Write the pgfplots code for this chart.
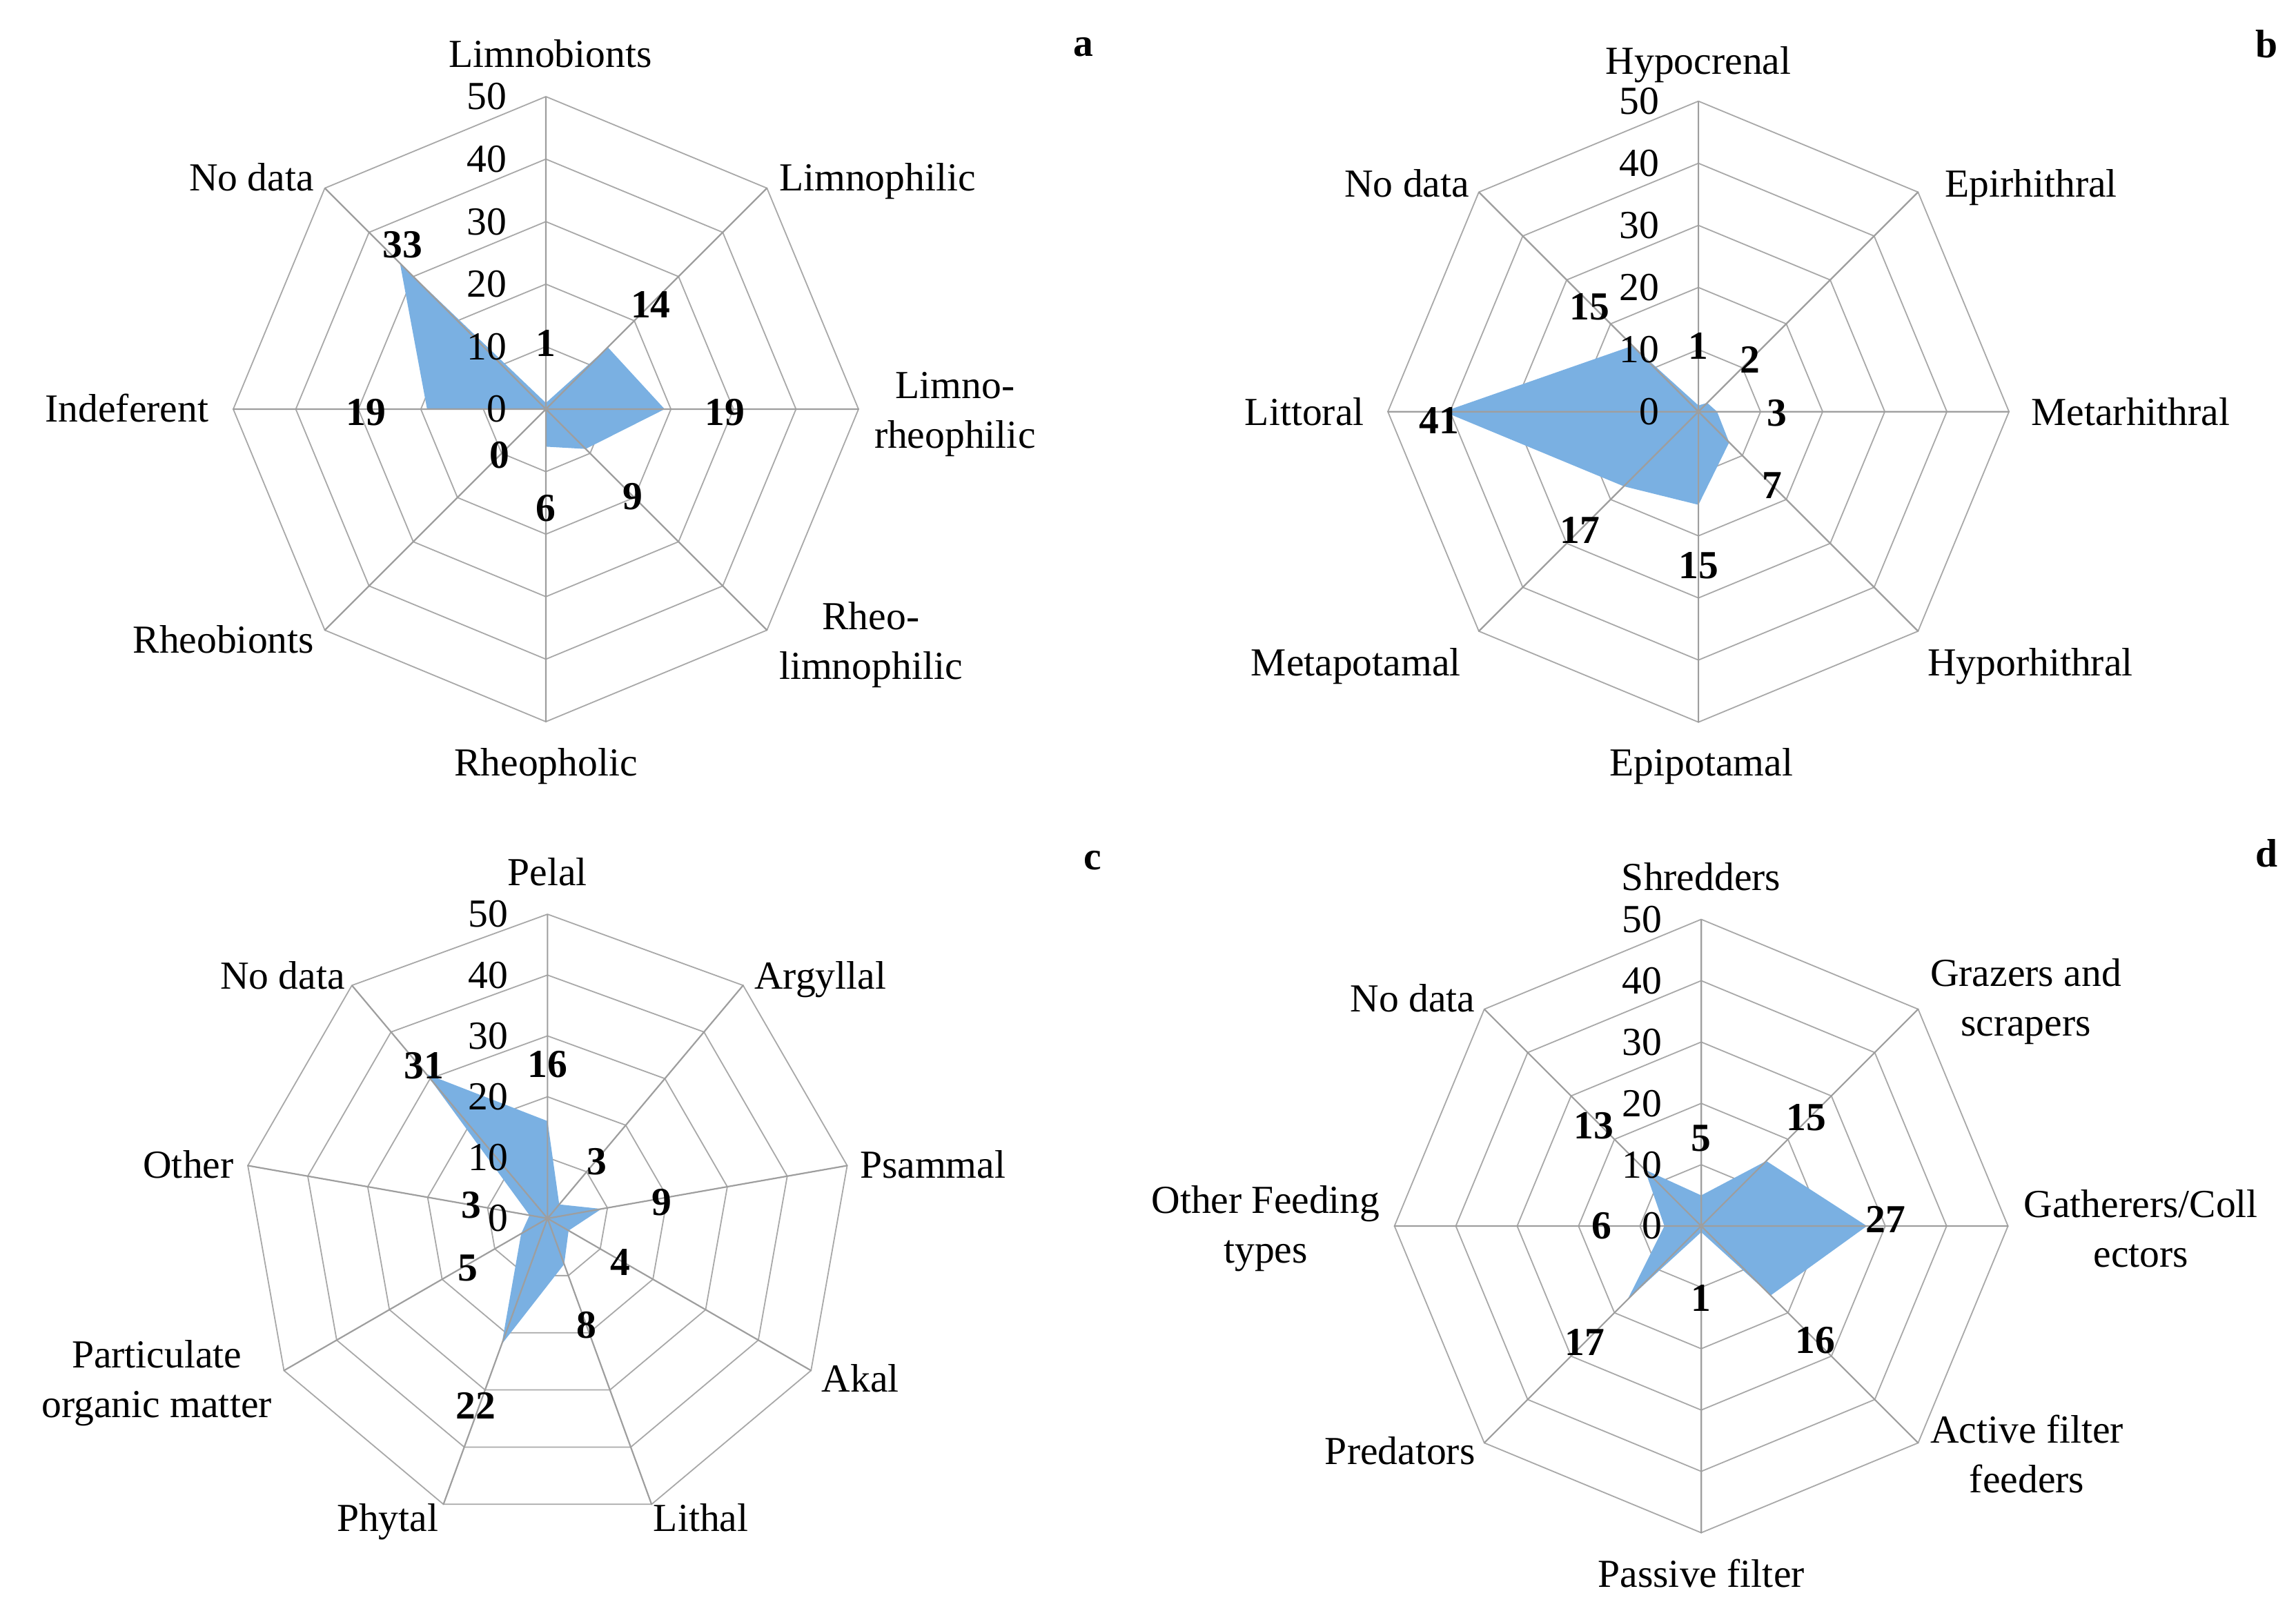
\documentclass[border=0pt]{standalone}
\usepackage{fontspec}
\setmainfont{Liberation Serif}
\usepackage{pgfplots}
\pgfplotsset{compat=1.18}
\definecolor{radarblue}{RGB}{122,176,226}
\definecolor{ringgray}{RGB}{168,168,168}
\definecolor{spokegray}{RGB}{158,158,158}
\tikzset{
  lab/.style={font=\fontsize{14.4}{18}\selectfont, inner sep=0pt, align=center, yshift=-2pt},
  slab/.style={font=\fontsize{14.4}{18}\selectfont, inner sep=0pt, text height=13.2pt, text depth=3.1pt},
  vlab/.style={font=\fontsize{14.4}{18}\selectfont\bfseries, inner sep=0pt},
  tlab/.style={font=\fontsize{14.4}{18}\selectfont, inner sep=0pt, anchor=east},
  plab/.style={font=\fontsize{14.4}{18}\selectfont\bfseries, inner sep=0pt},
  ring/.style={color=ringgray, line width=0.45pt},
  spoke/.style={color=spokegray, line width=0.55pt, line join=round},
}
\pgfplotsset{radar/.style={hide axis, xmin=-50, xmax=50, ymin=-50, ymax=50,
  anchor=origin, clip=false}}
\newcommand{\radarticks}{%
  \node[tlab] at ([xshift=-14pt]axis cs:0,0) {0};
  \node[tlab] at ([xshift=-14pt]axis cs:0,10) {10};
  \node[tlab] at ([xshift=-14pt]axis cs:0,20) {20};
  \node[tlab] at ([xshift=-14pt]axis cs:0,30) {30};
  \node[tlab] at ([xshift=-14pt]axis cs:0,40) {40};
  \node[tlab] at ([xshift=-14pt]axis cs:0,50) {50};
}
\newcommand{\octrings}{%
  \addplot[ring, data cs=polar] coordinates {(90,10)(45,10)(0,10)(-45,10)(-90,10)(-135,10)(180,10)(135,10)(90,10)};
  \addplot[ring, data cs=polar] coordinates {(90,20)(45,20)(0,20)(-45,20)(-90,20)(-135,20)(180,20)(135,20)(90,20)};
  \addplot[ring, data cs=polar] coordinates {(90,30)(45,30)(0,30)(-45,30)(-90,30)(-135,30)(180,30)(135,30)(90,30)};
  \addplot[ring, data cs=polar] coordinates {(90,40)(45,40)(0,40)(-45,40)(-90,40)(-135,40)(180,40)(135,40)(90,40)};
  \addplot[ring, data cs=polar] coordinates {(90,50)(45,50)(0,50)(-45,50)(-90,50)(-135,50)(180,50)(135,50)(90,50)};
}
\newcommand{\octspokes}{%
  \addplot[spoke, data cs=polar] coordinates {(90,50)(0,0)(45,50)(0,0)(0,50)(0,0)(-45,50)(0,0)(-90,50)(0,0)(-135,50)(0,0)(180,50)(0,0)(135,50)};
}
\newcommand{\nonrings}{%
  \addplot[ring, data cs=polar] coordinates {(90,10)(50,10)(10,10)(-30,10)(-70,10)(-110,10)(-150,10)(170,10)(130,10)(90,10)};
  \addplot[ring, data cs=polar] coordinates {(90,20)(50,20)(10,20)(-30,20)(-70,20)(-110,20)(-150,20)(170,20)(130,20)(90,20)};
  \addplot[ring, data cs=polar] coordinates {(90,30)(50,30)(10,30)(-30,30)(-70,30)(-110,30)(-150,30)(170,30)(130,30)(90,30)};
  \addplot[ring, data cs=polar] coordinates {(90,40)(50,40)(10,40)(-30,40)(-70,40)(-110,40)(-150,40)(170,40)(130,40)(90,40)};
  \addplot[ring, data cs=polar] coordinates {(90,50)(50,50)(10,50)(-30,50)(-70,50)(-110,50)(-150,50)(170,50)(130,50)(90,50)};
}
\newcommand{\nonspokes}{%
  \addplot[spoke, data cs=polar] coordinates {(90,50)(0,0)(50,50)(0,0)(10,50)(0,0)(-30,50)(0,0)(-70,50)(0,0)(-110,50)(0,0)(-150,50)(0,0)(170,50)(0,0)(130,50)};
}
\begin{document}
\begin{tikzpicture}
\path[use as bounding box] (0,0) rectangle (831.75pt,583.5pt);

% ---------------- panel a ----------------
\begin{axis}[radar, x=2.265pt, y=2.265pt, at={(197.75pt,435.24pt)}]
\octrings
\addplot[fill=radarblue, draw=none, data cs=polar] coordinates {(90,1)(45,14)(0,19)(-45,9)(-90,6)(-135,0)(180,19)(135,33)(90,1)};
\octspokes
\radarticks
\node[vlab] at ([shift={(90:{10.5*2.265pt})}]axis cs:0,0) {1};
\node[vlab] at ([shift={(45:{23.7*2.265pt})}]axis cs:0,0) {14};
\node[vlab] at ([shift={(-1:{28.6*2.265pt})}]axis cs:0,0) {19};
\node[vlab] at ([shift={(-45:{19.7*2.265pt})}]axis cs:0,0) {9};
\node[vlab] at ([shift={(-90:{15.9*2.265pt})}]axis cs:0,0) {6};
\node[vlab] at ([shift={(-135:{10.4*2.265pt})}]axis cs:0,0) {0};
\node[vlab] at ([shift={(181:{28.8*2.265pt})}]axis cs:0,0) {19};
\node[vlab] at ([shift={(131:{34.9*2.265pt})}]axis cs:0,0) {33};
\node[slab, anchor=center] at ([shift={(1.6pt,128.9pt)}]axis cs:0,0) {Limnobionts};
\node[slab, anchor=west] at ([shift={(84.3pt,84.3pt)}]axis cs:0,0) {Limnophilic};
\node[lab, anchor=west] at ([shift={(118.8pt,0pt)}]axis cs:0,0) {Limno-\\rheophilic};
\node[lab, anchor=west] at ([shift={(84.3pt,-83.3pt)}]axis cs:0,0) {Rheo-\\limnophilic};
\node[slab, anchor=center] at ([shift={(0pt,-127.8pt)}]axis cs:0,0) {Rheopholic};
\node[slab, anchor=east] at ([shift={(-83.8pt,-83.3pt)}]axis cs:0,0) {Rheobionts};
\node[slab, anchor=east] at ([shift={(-122pt,0.5pt)}]axis cs:0,0) {Indeferent};
\node[slab, anchor=east] at ([shift={(-83.8pt,84.3pt)}]axis cs:0,0) {No data};
\end{axis}

% ---------------- panel b ----------------
\begin{axis}[radar, x=2.25pt, y=2.25pt, at={(615.27pt,434.33pt)}]
\octrings
\addplot[fill=radarblue, draw=none, data cs=polar] coordinates {(90,1)(45,2)(0,3)(-45,7)(-90,15)(-135,17)(180,41)(135,15)(90,1)};
\octspokes
\radarticks
\node[vlab] at ([shift={(90:{10.6*2.25pt})}]axis cs:0,0) {1};
\node[vlab] at ([shift={(45:{11.8*2.25pt})}]axis cs:0,0) {2};
\node[vlab] at ([shift={(-1:{12.7*2.25pt})}]axis cs:0,0) {3};
\node[vlab] at ([shift={(-45:{16.8*2.25pt})}]axis cs:0,0) {7};
\node[vlab] at ([shift={(-90:{24.8*2.25pt})}]axis cs:0,0) {15};
\node[vlab] at ([shift={(-135:{27*2.25pt})}]axis cs:0,0) {17};
\node[vlab] at ([shift={(182:{41.8*2.25pt})}]axis cs:0,0) {41};
\node[vlab] at ([shift={(136:{24.3*2.25pt})}]axis cs:0,0) {15};
\node[slab, anchor=center] at ([shift={(0pt,127.3pt)}]axis cs:0,0) {Hypocrenal};
\node[slab, anchor=west] at ([shift={(89.1pt,82.8pt)}]axis cs:0,0) {Epirhithral};
\node[slab, anchor=west] at ([shift={(120.4pt,0pt)}]axis cs:0,0) {Metarhithral};
\node[slab, anchor=west] at ([shift={(82.8pt,-90.7pt)}]axis cs:0,0) {Hyporhithral};
\node[slab, anchor=center] at ([shift={(1.1pt,-126.8pt)}]axis cs:0,0) {Epipotamal};
\node[slab, anchor=east] at ([shift={(-85.9pt,-90.7pt)}]axis cs:0,0) {Metapotamal};
\node[slab, anchor=east] at ([shift={(-120.9pt,0pt)}]axis cs:0,0) {Littoral};
\node[slab, anchor=east] at ([shift={(-82.8pt,82.8pt)}]axis cs:0,0) {No data};
\end{axis}

% ---------------- panel c ----------------
\begin{axis}[radar, x=2.2046pt, y=2.2046pt, at={(198.34pt,142.0pt)}]
\nonrings
\addplot[fill=radarblue, draw=none, data cs=polar] coordinates {(90,16)(50,3)(10,9)(-30,4)(-70,8)(-110,22)(-150,5)(170,3)(130,31)(90,16)};
\nonspokes
\radarticks
\node[vlab] at ([shift={(90:{25.3*2.2046pt})}]axis cs:0,0) {16};
\node[vlab] at ([shift={(49:{12.4*2.2046pt})}]axis cs:0,0) {3};
\node[vlab] at ([shift={(8:{19*2.2046pt})}]axis cs:0,0) {9};
\node[vlab] at ([shift={(-31:{14*2.2046pt})}]axis cs:0,0) {4};
\node[vlab] at ([shift={(-70:{18.6*2.2046pt})}]axis cs:0,0) {8};
\node[vlab] at ([shift={(-111:{33*2.2046pt})}]axis cs:0,0) {22};
\node[vlab] at ([shift={(-148:{15.4*2.2046pt})}]axis cs:0,0) {5};
\node[vlab] at ([shift={(170:{12.7*2.2046pt})}]axis cs:0,0) {3};
\node[vlab] at ([shift={(129:{32.3*2.2046pt})}]axis cs:0,0) {31};
\node[slab, anchor=center] at ([shift={(0pt,125.7pt)}]axis cs:0,0) {Pelal};
\node[slab, anchor=west] at ([shift={(74.8pt,88.1pt)}]axis cs:0,0) {Argyllal};
\node[slab, anchor=west] at ([shift={(113pt,19.6pt)}]axis cs:0,0) {Psammal};
\node[slab, anchor=west] at ([shift={(99.2pt,-57.8pt)}]axis cs:0,0) {Akal};
\node[slab, anchor=west] at ([shift={(38.2pt,-108.2pt)}]axis cs:0,0) {Lithal};
\node[slab, anchor=east] at ([shift={(-39.3pt,-108.2pt)}]axis cs:0,0) {Phytal};
\node[lab, anchor=east] at ([shift={(-99.7pt,-57.8pt)}]axis cs:0,0) {Particulate\\organic matter};
\node[slab, anchor=east] at ([shift={(-113.5pt,19.6pt)}]axis cs:0,0) {Other};
\node[slab, anchor=east] at ([shift={(-73.2pt,88.1pt)}]axis cs:0,0) {No data};
\end{axis}

% ---------------- panel d ----------------
\begin{axis}[radar, x=2.2226pt, y=2.2226pt, at={(616.28pt,139.24pt)}]
\octrings
\addplot[fill=radarblue, draw=none, data cs=polar] coordinates {(90,5)(45,15)(0,27)(-45,16)(-90,1)(-135,17)(180,6)(135,13)(90,5)};
\octspokes
\radarticks
\node[vlab] at ([shift={(90:{14.3*2.2226pt})}]axis cs:0,0) {5};
\node[vlab] at ([shift={(46:{24.6*2.2226pt})}]axis cs:0,0) {15};
\node[vlab] at ([shift={(2:{30.1*2.2226pt})}]axis cs:0,0) {27};
\node[vlab] at ([shift={(-45:{26.3*2.2226pt})}]axis cs:0,0) {16};
\node[vlab] at ([shift={(-90:{11.7*2.2226pt})}]axis cs:0,0) {1};
\node[vlab] at ([shift={(-135:{26.8*2.2226pt})}]axis cs:0,0) {17};
\node[vlab] at ([shift={(180:{16.2*2.2226pt})}]axis cs:0,0) {6};
\node[vlab] at ([shift={(137:{24*2.2226pt})}]axis cs:0,0) {13};
\node[slab, anchor=center] at ([shift={(0pt,126.8pt)}]axis cs:0,0) {Shredders};
\node[lab, anchor=west] at ([shift={(82.8pt,83.3pt)}]axis cs:0,0) {Grazers and\\scrapers};
\node[lab, anchor=west] at ([shift={(116.7pt,1.1pt)}]axis cs:0,0) {Gatherers/Coll\\ectors};
\node[lab, anchor=west] at ([shift={(82.8pt,-80.6pt)}]axis cs:0,0) {Active filter\\feeders};
\node[slab, anchor=center] at ([shift={(0pt,-125.7pt)}]axis cs:0,0) {Passive filter};
\node[slab, anchor=east] at ([shift={(-81.7pt,-81.2pt)}]axis cs:0,0) {Predators};
\node[lab, anchor=east] at ([shift={(-116.2pt,1.1pt)}]axis cs:0,0) {Other Feeding\\types};
\node[slab, anchor=east] at ([shift={(-81.7pt,82.8pt)}]axis cs:0,0) {No data};
\end{axis}

% panel letters
\node[plab] at (392.5pt,566.5pt) {a};
\node[plab] at (821.1pt,567.6pt) {b};
\node[plab] at (395.7pt,271.6pt) {c};
\node[plab] at (821.1pt,274.2pt) {d};
\end{tikzpicture}
\end{document}
